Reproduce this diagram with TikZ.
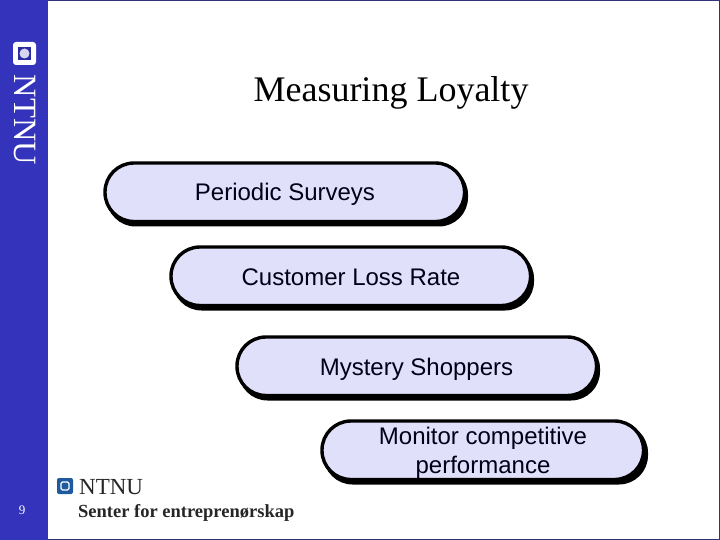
\documentclass[tikz,border=0pt]{standalone}
\usepackage{fontspec}
\setmainfont{Liberation Sans}
\newfontfamily\seriffont{Liberation Serif}
\definecolor{sidebar}{HTML}{3333BB}
\definecolor{framecol}{HTML}{333377}
\definecolor{boxfill}{HTML}{E0E0FA}
\definecolor{logoblue}{HTML}{1F5A9E}
\tikzset{
  x=1pt,y=-1pt,
  pill/.style={rounded corners=29pt,draw=black,line width=3.4pt,fill=boxfill},
  pillshadow/.style={rounded corners=29pt,fill=black},
  label/.style={font=\fontsize{24}{29}\selectfont,text=black!90!blue,align=center,inner sep=0pt},
}
\begin{document}
\begin{tikzpicture}
\useasboundingbox (0,0) rectangle (720,540);
\fill[white] (0,0) rectangle (720,540);
\draw[framecol,line width=1.2pt] (0,0.6) -- (719.4,0.6) -- (719.4,539.2) -- (0,539.2);
\fill[sidebar] (0,0) rectangle (48,540);
% side logo
\fill[white,rounded corners=3pt] (13,42) rectangle (36,65);
\fill[sidebar!85!black] (18,47) rectangle (31,60);
\fill[white!80!sidebar] (24.5,53.5) circle (5);
\node[rotate=-90,text=white,inner sep=0pt,font=\seriffont\fontsize{32.5}{32}\selectfont] (sidename) at (24.5,120) {NTNU};
\node[text=white,inner sep=0pt,font=\seriffont\fontsize{13}{13}\selectfont] (pagenum) at (22,510) {9};
% title
\node[inner sep=0pt,text=black,font=\seriffont\fontsize{36}{40}\selectfont] (title) at (391,93) {Measuring Loyalty};
% pills
\fill[pillshadow] (106.5,165.5) rectangle (468,226.5);
\draw[pill] (105,163) rectangle (464.5,221.5);
\node[label] (a) at (285,194.5) {Periodic Surveys};
\fill[pillshadow] (172.5,249.5) rectangle (534,310.5);
\draw[pill] (171,247) rectangle (530.5,305.5);
\node[label] (b) at (351,277) {Customer Loss Rate};
\fill[pillshadow] (238.5,339.5) rectangle (600,400.5);
\draw[pill] (237,337) rectangle (596.5,395.5);
\node[label] (c) at (416.5,369) {Mystery Shoppers};
\fill[pillshadow] (323.5,423.5) rectangle (648,484.5);
\draw[pill] (322,421) rectangle (643.5,479.5);
\node[label] (d) at (483,453) {Monitor competitive\\performance};
% bottom logo
\fill[logoblue,rounded corners=2pt] (57,478) rectangle (73,494);
\draw[white,line width=1.3pt,rounded corners=1.5pt] (61,482) rectangle (69,490);
\node[anchor=west,inner sep=0pt,text=black!85,font=\seriffont\fontsize{23}{23}\selectfont] (logoname) at (79,487) {NTNU};
\node[anchor=west,inner sep=0pt,text=black!85,font=\seriffont\bfseries\fontsize{18.5}{19}\selectfont] (logotext) at (78,513) {Senter for entreprenørskap};
\end{tikzpicture}
\end{document}
